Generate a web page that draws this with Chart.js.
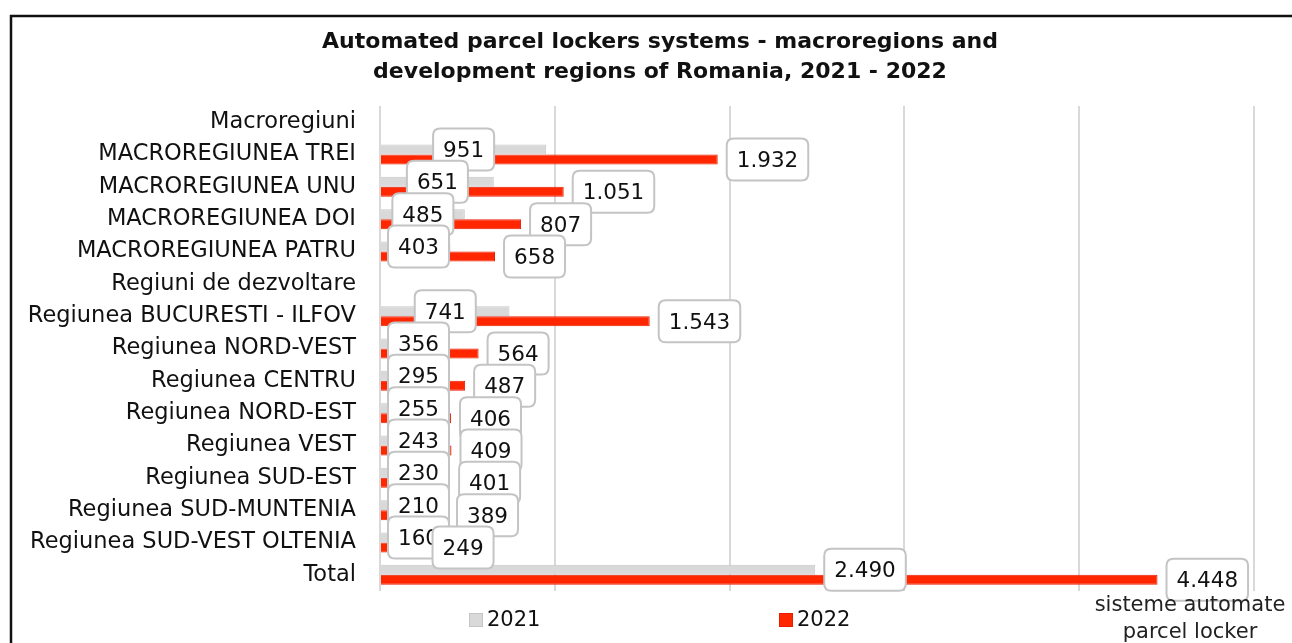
<!DOCTYPE html>
<html>
<head>
<meta charset="utf-8">
<script src="https://cdn.jsdelivr.net/npm/chart.js@4/dist/chart.umd.min.js"></script>
<style>
  html, body { margin: 0; padding: 0; background: #fff; }
  #wrap { width: 1292px; height: 643px; }
</style>
</head>
<body>
<div id="wrap"><canvas id="chart"></canvas></div>
<script>
// categories (top to bottom)
const categories = [
  "Macroregiuni",
  "MACROREGIUNEA TREI",
  "MACROREGIUNEA UNU",
  "MACROREGIUNEA DOI",
  "MACROREGIUNEA PATRU",
  "Regiuni de dezvoltare",
  "Regiunea BUCURESTI - ILFOV",
  "Regiunea NORD-VEST",
  "Regiunea CENTRU",
  "Regiunea NORD-EST",
  "Regiunea VEST",
  "Regiunea SUD-EST",
  "Regiunea SUD-MUNTENIA",
  "Regiunea SUD-VEST OLTENIA",
  "Total",
];

// number of parcel locker systems
const values2021 = [null, 951, 651, 485, 403, null, 741, 356, 295, 255, 243, 230, 210, 160, 2490];
const values2022 = [null, 1932, 1051, 807, 658, null, 1543, 564, 487, 406, 409, 401, 389, 249, 4448];

const seriesNames = ["2021", "2022"];
const titleLines = [
  "Automated parcel lockers systems - macroregions and",
  "development regions of Romania, 2021 - 2022",
];
const axisTitleLines = ["sisteme automate", "parcel locker"];

const FONT = "'DejaVu Sans', Verdana, sans-serif";

// format with "." as thousands separator (1.932)
function fmt(v) {
  return String(v).replace(/\B(?=(\d{3})+(?!\d))/g, ".");
}

function roundBox(ctx, x, y, w, h, r) {
  ctx.beginPath();
  ctx.moveTo(x + r, y);
  ctx.lineTo(x + w - r, y);
  ctx.quadraticCurveTo(x + w, y, x + w, y + r);
  ctx.lineTo(x + w, y + h - r);
  ctx.quadraticCurveTo(x + w, y + h, x + w - r, y + h);
  ctx.lineTo(x + r, y + h);
  ctx.quadraticCurveTo(x, y + h, x, y + h - r);
  ctx.lineTo(x, y + r);
  ctx.quadraticCurveTo(x, y, x + r, y);
  ctx.closePath();
}

// black frame around the chart (left and top edges visible)
// and title centred on the framed box rather than the canvas
const framePlugin = {
  id: "frame",
  afterLayout(chart) {
    if (chart.titleBlock) chart.titleBlock.left = 66;
  },
  beforeDraw(chart) {
    const ctx = chart.ctx;
    ctx.save();
    ctx.strokeStyle = "#111";
    ctx.lineWidth = 2.5;
    ctx.beginPath();
    ctx.moveTo(11, chart.height + 2);
    ctx.lineTo(11, 16);
    ctx.lineTo(chart.width + 2, 16);
    ctx.stroke();
    ctx.restore();
  },
};

// value labels in rounded white boxes
const boxLabels = {
  id: "boxLabels",
  afterDatasetsDraw(chart) {
    const ctx = chart.ctx;
    const area = chart.chartArea;
    ctx.save();
    ctx.font = "21.5px " + FONT;
    ctx.textAlign = "center";
    ctx.textBaseline = "middle";
    chart.data.datasets.forEach((ds, di) => {
      const meta = chart.getDatasetMeta(di);
      meta.data.forEach((bar, i) => {
        const v = ds.data[i];
        if (v === null || v === undefined) return;
        const txt = fmt(v);
        const w = ctx.measureText(txt).width + 20;
        const h = 42;
        let left;
        if (di === 0 && v < 2000) {
          // centred on the bar, kept inside the plot
          left = Math.max(bar.base + (bar.x - bar.base) / 2 - w / 2, area.left + 8);
        } else {
          left = bar.x + 9;
        }
        const top = bar.y - h / 2;
        roundBox(ctx, left, top, w, h, 7);
        ctx.fillStyle = "#fff";
        ctx.fill();
        ctx.strokeStyle = "#c4c4c4";
        ctx.lineWidth = 2;
        ctx.stroke();
        ctx.fillStyle = "#111";
        ctx.fillText(txt, left + w / 2, bar.y + 2);
      });
    });
    ctx.restore();
  },
};

// legend + axis title at the bottom
const bottomText = {
  id: "bottomText",
  afterDraw(chart) {
    const ctx = chart.ctx;
    const mid = 660;
    const y = 620;
    ctx.save();
    ctx.font = "21px " + FONT;
    ctx.textBaseline = "middle";
    ctx.textAlign = "left";
    const starts = [mid - 191, mid + 119];
    chart.data.datasets.forEach((ds, di) => {
      const x = starts[di];
      ctx.fillStyle = ds.backgroundColor;
      ctx.fillRect(x, y - 7, 14, 14);
      ctx.strokeStyle = ds.borderColor;
      ctx.lineWidth = 1;
      ctx.strokeRect(x + 0.5, y - 6.5, 13, 13);
      ctx.fillStyle = "#111";
      ctx.fillText(ds.label, x + 18, y + 1);
    });
    ctx.textAlign = "center";
    ctx.fillStyle = "#222";
    axisTitleLines.forEach((line, k) => {
      ctx.fillText(line, 1190, 606 + k * 27);
    });
    ctx.restore();
  },
};

const config = {
  type: "bar",
  data: {
    labels: categories,
    datasets: [
      {
        label: seriesNames[0],
        data: values2021,
        backgroundColor: "#d9d9d9",
        borderColor: "#c6c6c6",
        borderWidth: 1,
      },
      {
        label: seriesNames[1],
        data: values2022,
        backgroundColor: "#ff2600",
        borderColor: "#e81e00",
        borderWidth: 1,
      },
    ],
  },
  options: {
    indexAxis: "y",
    responsive: false,
    animation: false,
    devicePixelRatio: 1,
    categoryPercentage: 0.62,
    barPercentage: 1.0,
    layout: {
      padding: { left: 0, right: 38, top: 0, bottom: 52 },
    },
    plugins: {
      legend: { display: false },
      tooltip: { enabled: false },
      title: {
        display: true,
        text: titleLines,
        color: "#111",
        font: { family: FONT, size: 22, weight: "bold", lineHeight: 1.4 },
        padding: { top: 26.5, bottom: 17.9 },
      },
    },
    scales: {
      x: {
        min: 0,
        max: 5000,
        ticks: { stepSize: 1000, display: false },
        grid: { color: "#d9d9d9", lineWidth: 2, drawTicks: false },
        border: { display: false },
      },
      y: {
        grid: { display: false, drawTicks: false },
        border: { display: false },
        ticks: {
          color: "#111",
          font: { family: FONT, size: 22.5 },
          padding: 24,
          autoSkip: false,
        },
        afterFit(scale) {
          scale.width = 380;
        },
      },
    },
  },
  plugins: [framePlugin, boxLabels, bottomText],
};

const canvas = document.getElementById("chart");
canvas.width = 1292;
canvas.height = 643;
const myChart = new Chart(canvas, config);
</script>
</body>
</html>
